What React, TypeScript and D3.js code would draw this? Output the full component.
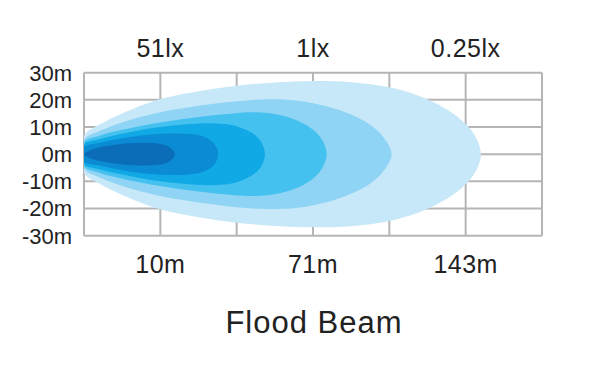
import React from 'react'
import * as d3 from 'd3'

const W = 600
const H = 366
const margin = { top: 72.7, right: 58, bottom: 130.3, left: 84 }
const innerW = W - margin.left - margin.right
const innerH = H - margin.top - margin.bottom

// grid / labels
const yTicks = [30, 20, 10, 0, -10, -20, -30]
const xCols = [0, 1, 2, 3, 4, 5, 6]
const labelCols = [1, 3, 5]
const luxLabels = ['51lx', '1lx', '0.25lx']
const distLabels = ['10m', '71m', '143m']

// beam outlines: [grid column, half width in m], outer zone first
const beam025 = [[0, 6.8], [0.2, 10.8], [0.5, 15.0], [1.0, 20.3], [1.5, 23.2], [2.0, 25.2], [2.5, 26.4], [3.0, 26.9], [3.5, 26.5], [4.0, 24.6], [4.4, 21.3], [4.8, 15.6], [5.05, 9.6], [5.16, 4.6], [5.2, 0]]
const beam1 = [[0, 5.3], [0.2, 8.5], [0.5, 11.7], [1.0, 15.4], [1.5, 17.8], [2.0, 19.5], [2.4, 20.2], [2.8, 19.7], [3.2, 17.5], [3.5, 14.6], [3.75, 10.8], [3.93, 6.0], [4.03, 0]]
const beam3 = [[0, 4.4], [0.2, 6.8], [0.5, 9.0], [1.0, 11.7], [1.5, 13.7], [1.95, 15.0], [2.25, 15.4], [2.55, 14.5], [2.8, 12.3], [3.0, 9.0], [3.12, 5.2], [3.18, 0]]
const beam10 = [[0, 3.7], [0.2, 5.5], [0.5, 7.5], [0.9, 9.6], [1.3, 10.9], [1.65, 11.4], [1.95, 10.7], [2.15, 8.6], [2.3, 5.4], [2.37, 0]]
const beam25 = [[0, 2.6], [0.2, 4.2], [0.45, 5.6], [0.75, 6.9], [1.1, 7.6], [1.4, 7.4], [1.58, 6.3], [1.7, 4.0], [1.76, 0]]
const beam51 = [[0, 0], [0.08, 1.5], [0.28, 2.9], [0.54, 3.9], [0.8, 4.2], [1.0, 3.8], [1.12, 2.6], [1.19, 0]]

const beams = [beam025, beam1, beam3, beam10, beam25, beam51]
const beamColors = ['#c7e8f8', '#8fd4f4', '#45c1ef', '#10a9e6', '#0b8bd3', '#0b6db8']

const gridColor = '#b5b5b5'
const textColor = '#222'
const font = 'Arial, "Liberation Sans", Helvetica, sans-serif'

export default function App() {
  const x = d3.scaleLinear().domain([0, 6]).range([0, innerW])
  const y = d3.scaleLinear().domain([30, -30]).range([0, innerH])

  const line = d3.line<number[]>()
    .x(d => x(d[0]))
    .y(d => y(d[1]))
    .curve(d3.curveCatmullRomClosed.alpha(0.5))

  // mirror the upper outline to get a closed beam shape
  const ring = (pts: number[][]) => {
    const upper = pts.map(([c, h]) => [c, h])
    let lower = pts.slice(0, -1).reverse().map(([c, h]) => [c, -h])
    if (pts[0][1] === 0) lower = lower.slice(0, -1)
    return [...upper, ...lower]
  }

  return (
    <svg width={W} height={H} style={{ position: 'absolute', left: 0, top: 0, background: '#fff' }}>
      <defs>
        <clipPath id="plot-clip">
          <rect x={0} y={0} width={innerW} height={innerH} />
        </clipPath>
      </defs>
      <g transform={`translate(${margin.left},${margin.top})`}>
        {yTicks.map(t => (
          <line key={'h' + t} x1={0} x2={innerW} y1={y(t)} y2={y(t)} stroke={gridColor} strokeWidth={2} />
        ))}
        {xCols.map(c => (
          <line key={'v' + c} x1={x(c)} x2={x(c)} y1={0} y2={innerH} stroke={gridColor} strokeWidth={2} />
        ))}
        <g clipPath="url(#plot-clip)">
          {beams.map((b, i) => (
            <path key={i} d={line(ring(b)) || ''} fill={beamColors[i]} />
          ))}
        </g>
        {yTicks.map(t => (
          <text key={'yl' + t} x={-12} y={y(t)} dy="0.36em" textAnchor="end"
            fontFamily={font} fontSize={22} fill={textColor}>{t + 'm'}</text>
        ))}
        {labelCols.map((c, i) => (
          <text key={'lx' + i} x={x(c)} y={57 - margin.top} textAnchor="middle"
            fontFamily={font} fontSize={25} letterSpacing={0.5} fill={textColor}>{luxLabels[i]}</text>
        ))}
        {labelCols.map((c, i) => (
          <text key={'dm' + i} x={x(c)} y={273 - margin.top} textAnchor="middle"
            fontFamily={font} fontSize={25} letterSpacing={0.5} fill={textColor}>{distLabels[i]}</text>
        ))}
      </g>
      <text x={314} y={333} textAnchor="middle" fontFamily={font} fontSize={31}
        letterSpacing={1} fill={textColor}>Flood Beam</text>
    </svg>
  )
}
